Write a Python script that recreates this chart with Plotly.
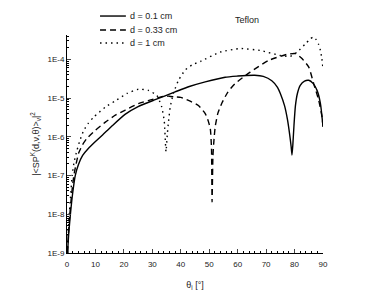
import plotly.graph_objects as go

# ---- data (theta in degrees, log10 of |<SP>|^2) ----
theta_a = [0.2, 0.6, 1.2, 2.0, 2.9, 4.0, 5.5, 7.5, 10, 12.5, 15.8, 20.4, 25, 31, 38, 43, 48.6, 55.6, 60, 63, 66, 69, 72, 74, 75, 76.5, 77.5, 78.3, 78.8, 79.1, 79.4, 79.8, 80.3, 81, 82, 83.5, 85, 86.5, 87.9, 89.1, 90]
logv_a = [-9.0, -8.5, -8.0, -7.45, -7.0, -6.72, -6.48, -6.3, -6.12, -5.95, -5.72, -5.42, -5.22, -5.04, -4.84, -4.7, -4.58, -4.46, -4.43, -4.415, -4.41, -4.44, -4.55, -4.72, -4.88, -5.2, -5.55, -5.95, -6.25, -6.47, -6.2, -5.7, -5.2, -4.88, -4.67, -4.56, -4.54, -4.62, -4.8, -5.14, -5.74]

theta_b = [0.2, 0.5, 1.0, 1.6, 2.4, 3.2, 4.1, 5.5, 7, 10, 13.5, 17, 20.5, 25.1, 29.8, 33.3, 36, 38, 40, 42.7, 46.2, 48.6, 49.7, 50.4, 50.8, 51.0, 51.3, 51.7, 52.1, 53, 54.5, 56.5, 59, 64.4, 70.8, 77.3, 80.3, 82.6, 85, 86.7, 88.5, 89.7, 90]
logv_b = [-9.0, -8.5, -8.0, -7.5, -7.0, -6.7, -6.42, -6.2, -6.04, -5.83, -5.62, -5.44, -5.31, -5.14, -5.04, -4.96, -4.95, -4.97, -4.98, -5.06, -5.19, -5.4, -5.6, -5.8, -6.3, -7.68, -6.5, -6.05, -5.74, -5.4, -5.12, -4.85, -4.63, -4.33, -4.03, -3.87, -3.85, -3.98, -4.2, -4.62, -5.06, -5.5, -5.74]

theta_c = [0.2, 0.4, 0.8, 1.3, 1.8, 2.5, 3.5, 4.5, 5.9, 7.5, 9.4, 13.5, 17, 21.1, 25.1, 28.6, 31.6, 33.3, 34.2, 34.8, 35.3, 35.7, 36.3, 37.4, 39.2, 41.5, 44, 47, 53.9, 60.9, 68, 75, 78.5, 80.9, 83.8, 85.5, 86.7, 87.7, 88.5, 89.1, 89.6, 90]
logv_c = [-9.0, -8.5, -8.0, -7.5, -7.0, -6.65, -6.35, -6.1, -5.83, -5.65, -5.49, -5.23, -5.07, -4.88, -4.77, -4.8, -4.93, -5.23, -5.6, -6.38, -5.9, -5.6, -5.23, -4.88, -4.54, -4.28, -4.14, -4.05, -3.81, -3.72, -3.77, -3.9, -3.92, -3.81, -3.6, -3.47, -3.42, -3.5, -3.62, -3.77, -3.98, -4.24]

names = ["d = 0.1 cm", "d = 0.33 cm", "d = 1 cm"]
dashes = ["solid", "6px,4px", "1.5px,4px"]

ytick_vals = [1e-9, 1e-8, 1e-7, 1e-6, 1e-5, 1e-4]
ytick_text = ["1E-9", "1E-8", "1E-7", "1E-6", "1E-5", "1E-4"]
xtick_vals = [0, 10, 20, 30, 40, 50, 60, 70, 80, 90]

fig = go.Figure()
for th, lv, nm, ds in zip([theta_a, theta_b, theta_c], [logv_a, logv_b, logv_c], names, dashes):
    fig.add_trace(go.Scatter(
        x=th, y=[10 ** v for v in lv], mode="lines", name=nm, showlegend=False,
        line=dict(color="black", width=1.4, dash=ds, shape="spline", smoothing=0.5),
    ))

# manual legend (paper coordinates)
legend_y = [1.087, 1.023, 0.963]
for nm, ds, ly in zip(names, dashes, legend_y):
    fig.add_shape(type="line", xref="paper", yref="paper", x0=0.129, x1=0.230, y0=ly, y1=ly,
                  line=dict(color="black", width=1.4, dash=ds))
    fig.add_annotation(text=nm, x=0.238, y=ly, xref="paper", yref="paper", xanchor="left",
                       yanchor="middle", showarrow=False, font=dict(size=9, color="#222"))

font_family = "Liberation Sans, Arial, sans-serif"
fig.update_layout(
    width=374, height=305,
    margin=dict(l=67, r=51, t=35, b=52, autoexpand=False),
    paper_bgcolor="white", plot_bgcolor="white",
    font=dict(family=font_family, size=8, color="#222"),
    showlegend=False,
    xaxis=dict(range=[0, 90], tickvals=xtick_vals, ticks="inside", ticklen=4,
               showline=True, linecolor="black", linewidth=1, mirror=False,
               showgrid=False, zeroline=False, tickfont=dict(size=8), ticklabelstandoff=3,
               minor=dict(ticks="inside", ticklen=2, dtick=2, tickcolor="black"),
               title=dict(text="θ<sub>i</sub> [°]", font=dict(size=9), standoff=14)),
    yaxis=dict(type="log", range=[-9, -3.37], tickvals=ytick_vals, ticktext=ytick_text,
               ticks="inside", ticklen=4, showline=True, linecolor="black", linewidth=1,
               showgrid=False, zeroline=False, tickfont=dict(size=8),
               minor=dict(ticks="inside", ticklen=2, dtick="D1", tickcolor="black"),
               title=dict(text="|&lt;SP<sup>K</sup>(d,ν,θ)&gt;<sub>ν</sub>|<sup>2</sup>",
                          font=dict(size=9), standoff=6)),
)
fig.add_annotation(text="Teflon", x=0.703, y=1.069, xref="paper", yref="paper",
                   xanchor="center", yanchor="middle",
                   showarrow=False, font=dict(size=9, color="#222"))

fig.write_html("out.html", config={"displayModeBar": False},
               post_script="document.body.style.margin='0px';")
